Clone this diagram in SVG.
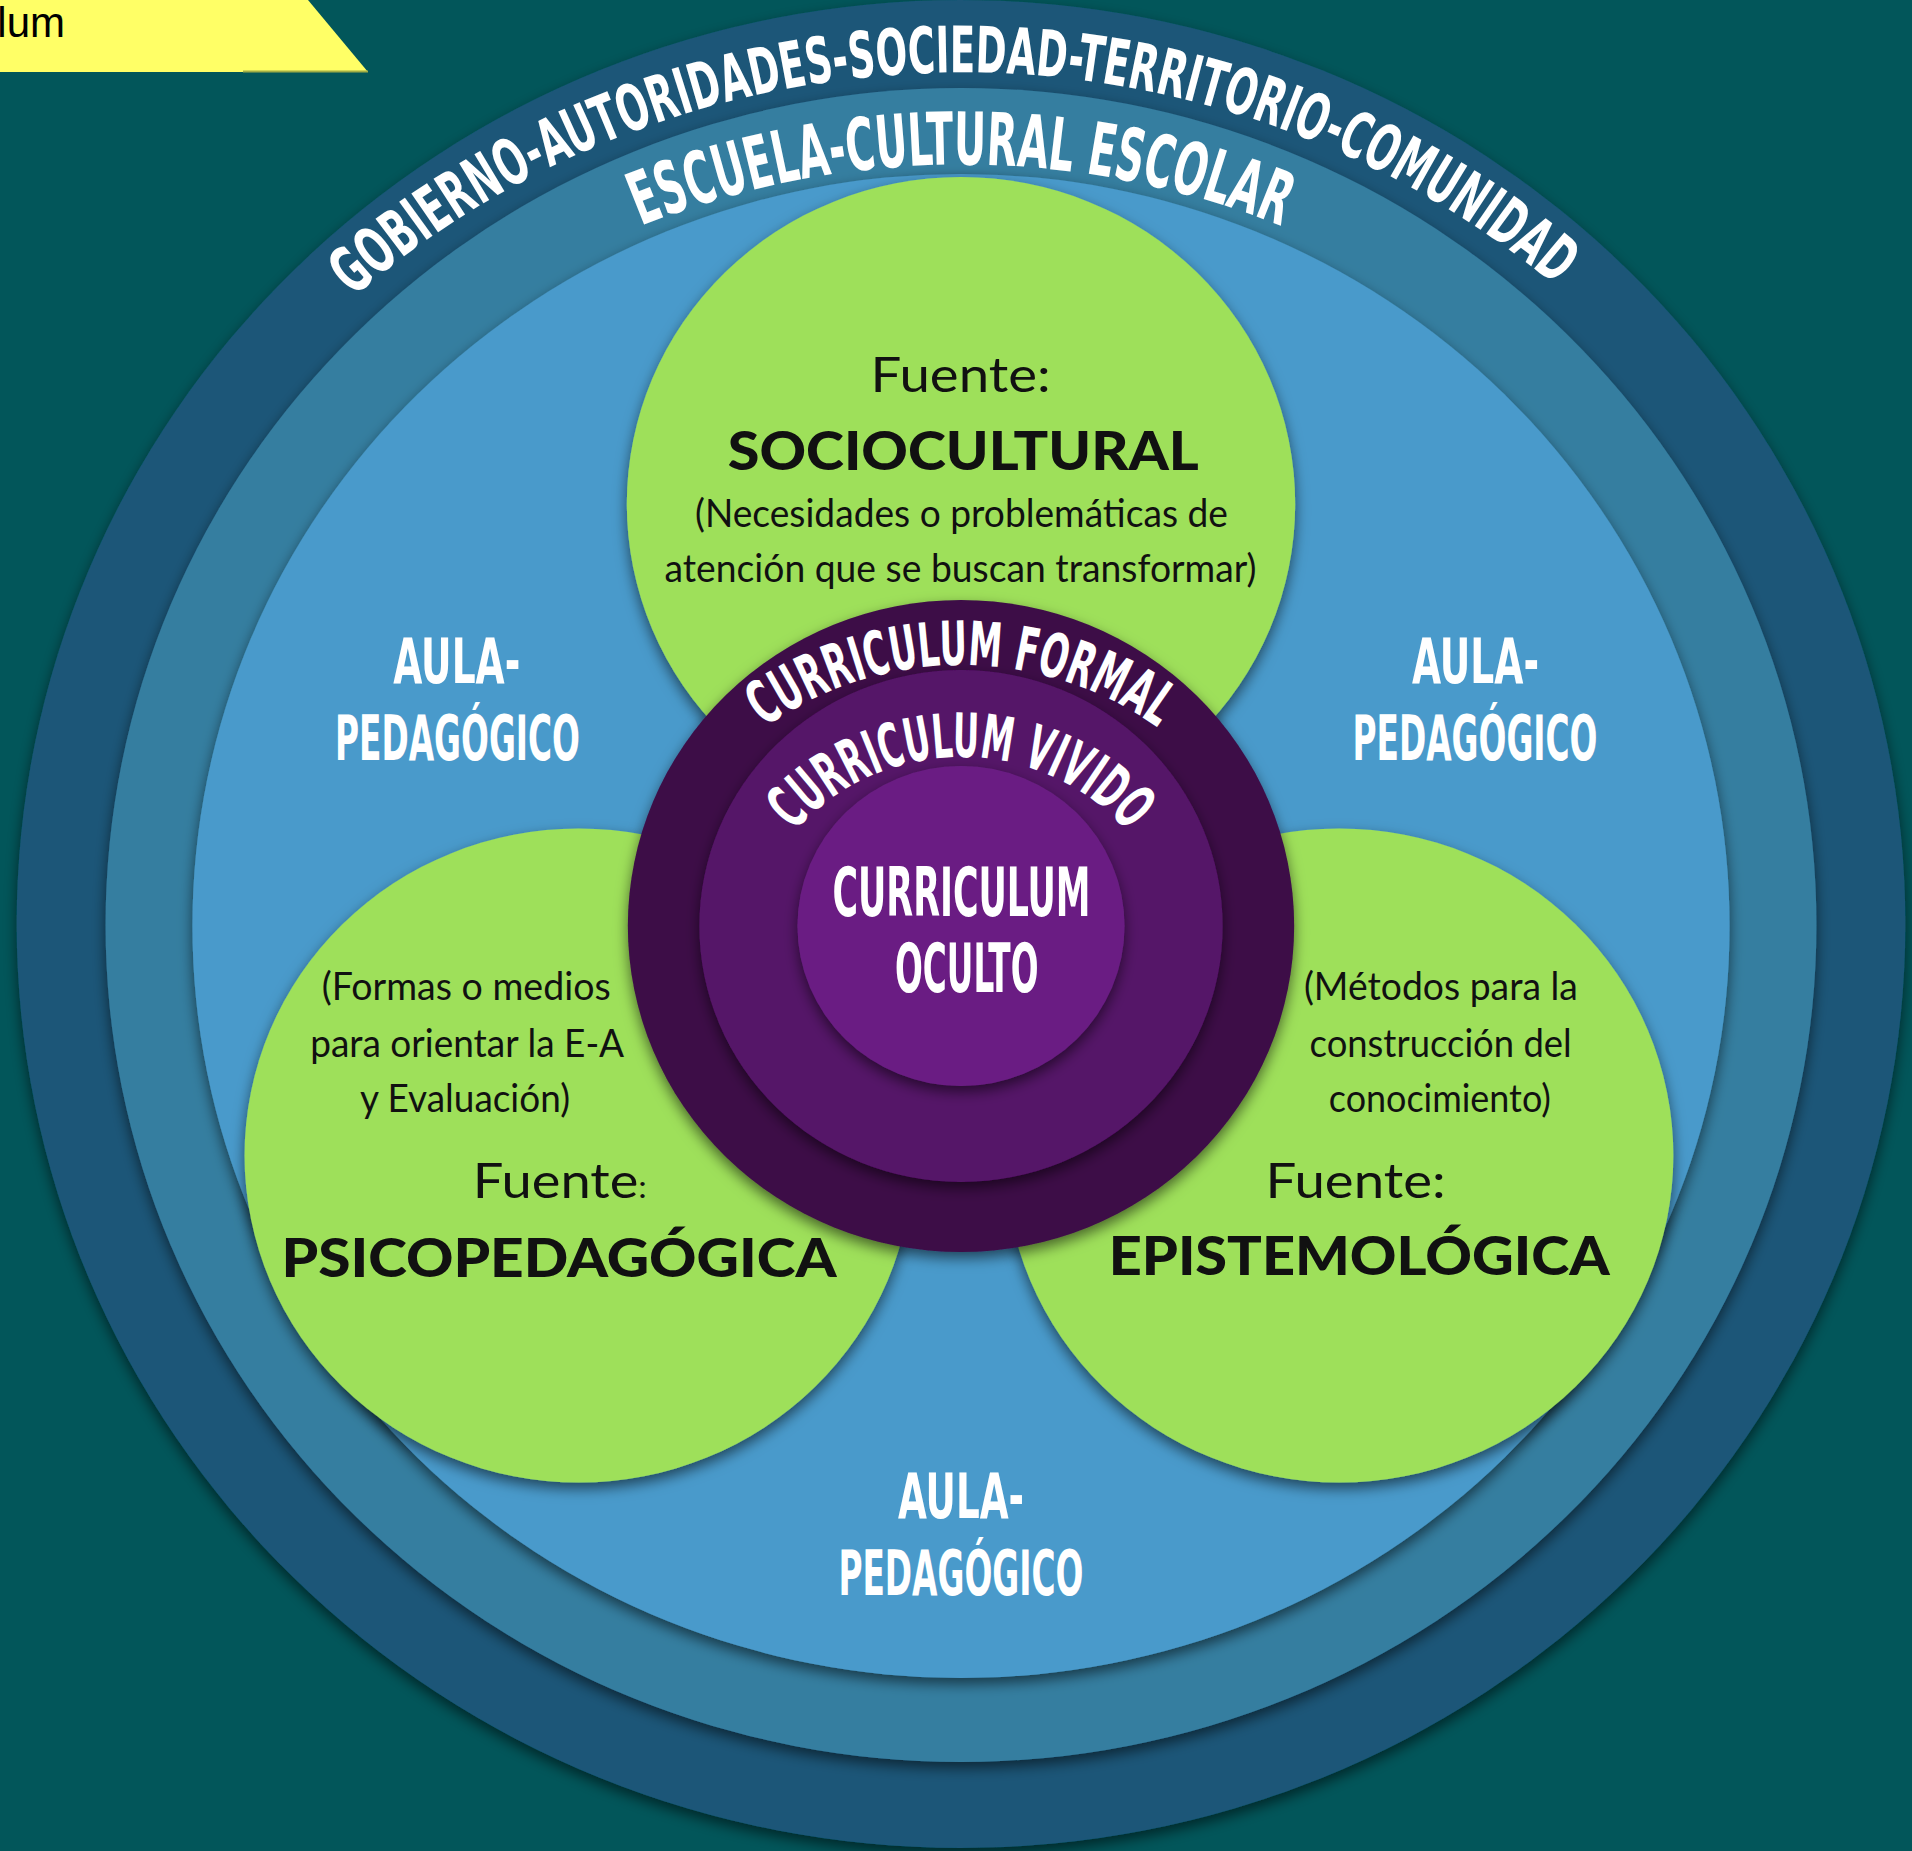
<svg xmlns="http://www.w3.org/2000/svg" xmlns:xlink="http://www.w3.org/1999/xlink" width="1912" height="1851" viewBox="0 0 1912 1851">
<defs>
<style>
.wt{fill:#ffffff;font-family:"Liberation Sans Narrow","DejaVu Sans Condensed","DejaVu Sans",sans-serif;font-weight:bold;font-stretch:condensed;}
.src{fill:#111111;font-family:Lato,"Open Sans","Liberation Sans",sans-serif;}
.ttl{font-weight:900;font-size:54px;}
.fu{font-weight:400;font-size:48px;}
.ds{font-weight:400;font-size:38px;}
.aula{font-size:63px;}
</style>
<filter id="sh" x="-10%" y="-10%" width="120%" height="125%">
<feDropShadow dx="0" dy="6" stdDeviation="7" flood-color="#000000" flood-opacity="0.55"/>
</filter>
<path id="arc1" d="M 62 971 A 899 899 0 0 1 1860 971"/>
<path id="arc2" d="M 131 994.5 A 830 830 0 0 1 1791 994.5"/>
<path id="arc3" d="M 634 992 A 327 327 0 0 1 1288 992"/>
<path id="arc4" d="M 745 973 A 216 216 0 0 1 1177 973"/>
</defs>
<rect x="0" y="0" width="1912" height="1851" fill="#02565A"/>
<g id="tag">
<polygon points="0,0 308,0 368,72 0,72" fill="#FFFF66"/>
<line x1="243" y1="71.5" x2="368" y2="71.5" stroke="#A3AE45" stroke-width="2"/>
<text x="65" y="37" text-anchor="end" font-family="'Liberation Sans',sans-serif" font-size="42" fill="#000000">lum</text>
</g>
<g id="diagram" transform="translate(961 0) scale(1.022 1) translate(-961 0)">
<g id="ring-gobierno">
<circle cx="961" cy="924" r="924" fill="#1A5778" filter="url(#sh)"/>
<text class="wt" font-size="64"><textPath xlink:href="#arc1" href="#arc1" startOffset="1403" text-anchor="middle" textLength="1282" lengthAdjust="spacingAndGlyphs">GOBIERNO-AUTORIDADES-SOCIEDAD-TERRITORIO-COMUNIDAD</textPath></text>
</g>
<g id="ring-escuela">
<circle cx="961" cy="925" r="837" fill="#367EA0" filter="url(#sh)"/>
<text class="wt" font-size="73"><textPath xlink:href="#arc2" href="#arc2" startOffset="1303.75" text-anchor="middle" textLength="643" lengthAdjust="spacingAndGlyphs">ESCUELA-CULTURAL ESCOLAR</textPath></text>
</g>
<g id="ring-aula">
<circle cx="961" cy="926" r="752" fill="#4A9ACB" filter="url(#sh)"/>
</g>
<g id="fuente-sociocultural">
<circle cx="961" cy="504" r="327" fill="#9EE05A" filter="url(#sh)"/>
</g>
<g id="fuente-psicopedagogica">
<circle cx="587" cy="1155.5" r="327" fill="#9EE05A" filter="url(#sh)"/>
</g>
<g id="fuente-epistemologica">
<circle cx="1331" cy="1155.5" r="327" fill="#9EE05A" filter="url(#sh)"/>
</g>
<g id="curriculum-formal">
<circle cx="961" cy="926" r="326" fill="#3D0C47" filter="url(#sh)"/>
<text class="wt" font-size="61"><textPath xlink:href="#arc3" href="#arc3" startOffset="513.6" text-anchor="middle" textLength="411" lengthAdjust="spacingAndGlyphs">CURRICULUM FORMAL</textPath></text>
</g>
<g id="curriculum-vivido">
<circle cx="961" cy="926" r="256" fill="#551468" filter="url(#sh)"/>
<text class="wt" font-size="61"><textPath xlink:href="#arc4" href="#arc4" startOffset="339.3" text-anchor="middle" textLength="370" lengthAdjust="spacingAndGlyphs">CURRICULUM VIVIDO</textPath></text>
</g>
<g id="curriculum-oculto-shape">
<circle cx="961" cy="926" r="160" fill="#6A1F83" filter="url(#sh)"/>
</g>
</g>
<g id="curriculum-oculto">
<text class="wt" x="832.5" y="916" font-size="67" textLength="258" lengthAdjust="spacingAndGlyphs">CURRICULUM</text>
<text class="wt" x="895" y="992" font-size="67" textLength="143.5" lengthAdjust="spacingAndGlyphs">OCULTO</text>
</g>
<g id="aula-left">
<text class="wt aula" x="393.3" y="683" textLength="127" lengthAdjust="spacingAndGlyphs">AULA-</text>
<text class="wt aula" x="335" y="760" textLength="245" lengthAdjust="spacingAndGlyphs">PEDAGÓGICO</text>
</g>
<g id="aula-right">
<text class="wt aula" x="1412" y="683" textLength="127" lengthAdjust="spacingAndGlyphs">AULA-</text>
<text class="wt aula" x="1352.5" y="760" textLength="245" lengthAdjust="spacingAndGlyphs">PEDAGÓGICO</text>
</g>
<g id="aula-bottom">
<text class="wt aula" x="898" y="1518" textLength="126" lengthAdjust="spacingAndGlyphs">AULA-</text>
<text class="wt aula" x="838.4" y="1595" textLength="245" lengthAdjust="spacingAndGlyphs">PEDAGÓGICO</text>
</g>
<g id="texto-sociocultural">
<text class="src fu" x="870.6" y="392" textLength="180" lengthAdjust="spacingAndGlyphs">Fuente:</text>
<text class="src ttl" x="727.8" y="470" font-size="53" textLength="471" lengthAdjust="spacingAndGlyphs">SOCIOCULTURAL</text>
<text class="src ds" x="695" y="527" textLength="533" lengthAdjust="spacingAndGlyphs">(Necesidades o problemáticas de</text>
<text class="src ds" x="664.5" y="582" textLength="592" lengthAdjust="spacingAndGlyphs">atención que se buscan transformar)</text>
</g>
<g id="texto-psicopedagogica">
<text class="src ds" x="321.7" y="1000" textLength="289" lengthAdjust="spacingAndGlyphs">(Formas o medios</text>
<text class="src ds" x="310.2" y="1057" textLength="314" lengthAdjust="spacingAndGlyphs">para orientar la E-A</text>
<text class="src ds" x="360" y="1112" textLength="210" lengthAdjust="spacingAndGlyphs">y Evaluación)</text>
<text class="src fu" x="472.8" y="1198" textLength="174" lengthAdjust="spacingAndGlyphs">Fuente<tspan font-size="30">:</tspan></text>
<text class="src ttl" x="281.5" y="1277" textLength="555" lengthAdjust="spacingAndGlyphs">PSICOPEDAGÓGICA</text>
</g>
<g id="texto-epistemologica">
<text class="src ds" x="1303.9" y="1000" textLength="274" lengthAdjust="spacingAndGlyphs">(Métodos para la</text>
<text class="src ds" x="1309.6" y="1057" textLength="262" lengthAdjust="spacingAndGlyphs">construcción del</text>
<text class="src ds" x="1328.8" y="1112" textLength="222" lengthAdjust="spacingAndGlyphs">conocimiento)</text>
<text class="src fu" x="1265.6" y="1198" textLength="180" lengthAdjust="spacingAndGlyphs">Fuente:</text>
<text class="src ttl" x="1108.7" y="1275" textLength="501" lengthAdjust="spacingAndGlyphs">EPISTEMOLÓGICA</text>
</g>
<g id="connectors"/>
</svg>
